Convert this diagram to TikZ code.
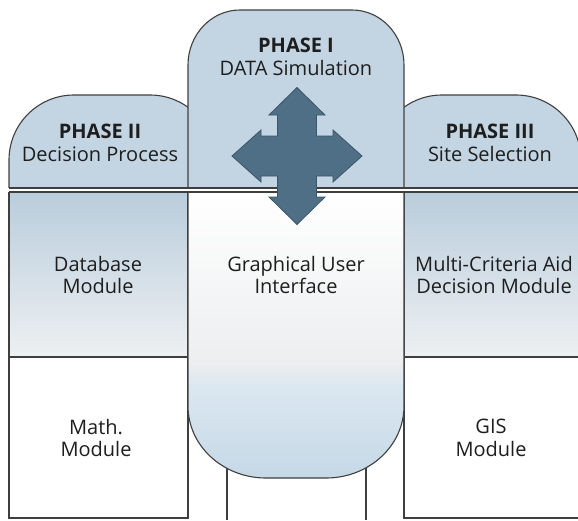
\documentclass[tikz,border=0pt]{standalone}
\usepackage{fontspec}
\setmainfont{Open Sans}
\definecolor{tabblue}{HTML}{C3D5E2}
\definecolor{sideblue}{HTML}{B9CDDC}
\definecolor{sidewhite}{HTML}{EEF0F2}
\definecolor{guigray}{HTML}{ECEEEF}
\definecolor{guilight}{HTML}{DCE8F1}
\definecolor{guiblue}{HTML}{C4D8E6}
\definecolor{arrowfill}{HTML}{4F6F86}
\definecolor{arrowline}{HTML}{3C5669}
\definecolor{linegray}{HTML}{3F3F3F}
\definecolor{textgray}{HTML}{1E1E1E}
% outline of the tall central panel (pixel-style coordinates, y pointing down)
\newcommand\centralpath{(188,406) -- (188,65)
  arc[start angle=180, end angle=270, x radius=52, y radius=55] -- (352,10)
  arc[start angle=270, end angle=360, x radius=52, y radius=55] -- (404,406)
  arc[start angle=0, end angle=90, x radius=78, y radius=72] -- (266,478)
  arc[start angle=90, end angle=180, x radius=78, y radius=72] -- cycle}
\begin{document}
\begin{tikzpicture}[x=1pt, y=-1pt,
  outline/.style={draw=linegray, line width=1.1pt},
  lbl/.style={align=center, text=textgray, inner sep=0pt,
              font=\fontsize{20}{22.5}\selectfont}]
\useasboundingbox (0,0) rectangle (578,520);
\clip (0,0) rectangle (578,520);
\fill[white] (0,0) rectangle (578,520);

% side columns: upper row shaded, lower row plain
\shade[top color=sideblue, bottom color=sidewhite] (9,192) rectangle (188,357);
\shade[top color=sideblue, bottom color=sidewhite] (404,192) rectangle (583,357);
\draw[outline] (9,192) rectangle (188,518);
\draw[outline] (9,357) -- (188,357);
\draw[outline] (404,192) rectangle (583,518);
\draw[outline] (404,357) -- (583,357);

% narrow stem under the central panel
\draw[outline] (227,460) -- (227,520);
\draw[outline] (366,460) -- (366,520);

% phase tabs on both sides
\begin{scope}
  \clip (0,0) rectangle (578,188);
  \draw[outline, fill=tabblue, rounded corners=65] (9,95) rectangle (215,320);
  \draw[outline, fill=tabblue, rounded corners=65] (377,95) rectangle (581,320);
\end{scope}

% central panel: blue head, white body fading to blue at the foot
\fill[white] \centralpath;
\begin{scope}
  \clip \centralpath;
  \fill[tabblue] (188,0) rectangle (404,188);
  \shade[top color=white, bottom color=guigray] (188,192) rectangle (404,365);
  \shade[top color=guigray, bottom color=guilight] (188,364) rectangle (404,385);
  \shade[top color=guilight, bottom color=guiblue] (188,384) rectangle (404,480);
\end{scope}
\draw[outline] \centralpath;

% double separator line across the whole width
\fill[white] (0,188) rectangle (578,192);
\draw[outline] (9,188) -- (583,188);
\draw[outline] (9,192) -- (583,192);

% four-way arrow
\begin{scope}[shift={(297,156)}]
  \filldraw[fill=arrowfill, draw=arrowline, line width=0.8pt, line join=miter]
    (0,-68.5) -- (28,-41) -- (19.5,-41) -- (19.5,-20) -- (36,-20) -- (36,-26)
    -- (65,0) -- (36,26) -- (36,20) -- (19.5,20) -- (19.5,41) -- (28,41)
    -- (0,68.5) -- (-28,41) -- (-19.5,41) -- (-19.5,20) -- (-36,20)
    -- (-36,26) -- (-65,0) -- (-36,-26) -- (-36,-20) -- (-19.5,-20)
    -- (-19.5,-41) -- (-28,-41) -- cycle;
\end{scope}

% labels
\node[lbl] (phaseone) at (296,57) {\textbf{PHASE I}\\DATA Simulation};
\node[lbl] (phasetwo) at (100,143) {\textbf{PHASE II}\\Decision Process};
\node[lbl] (phasethree) at (490,143) {\textbf{PHASE III}\\Site Selection};
\node[lbl] (database) at (98,275) {Database\\Module};
\node[lbl] (gui) at (296,275) {Graphical User\\Interface};
\node[lbl] (mcda) at (494,275) {Multi-Criteria Aid\\Decision Module};
\node[lbl] (math) at (96,438) {Math.\\Module};
\node[lbl] (gis) at (491,438) {GIS\\Module};
\end{tikzpicture}
\end{document}
